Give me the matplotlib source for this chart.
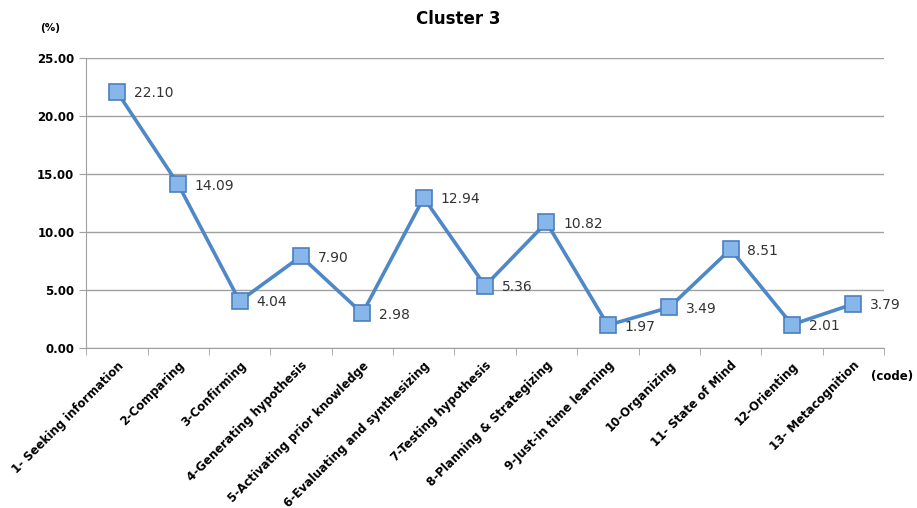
import numpy as np
import matplotlib.pyplot as plt

codes = ['1- Seeking information', '2-Comparing', '3-Confirming', '4-Generating hypothesis',
         '5-Activating prior knowledge', '6-Evaluating and synthesizing', '7-Testing hypothesis',
         '8-Planning & Strategizing', '9-Just-in time learning', '10-Organizing',
         '11- State of Mind', '12-Orienting', '13- Metacognition']
percent = [22.10, 14.09, 4.04, 7.90, 2.98, 12.94, 5.36, 10.82, 1.97, 3.49, 8.51, 2.01, 3.79]

fig = plt.figure(figsize=(9.17, 5.08), dpi=100)
ax = fig.add_axes([0.094, 0.315, 0.870, 0.571])

x = np.arange(len(codes))
ax.plot(x, percent, color='#4f88c6', lw=2.6, marker='s', ms=11,
        markerfacecolor='#86b6ea', markeredgecolor='#4a7fbf', markeredgewidth=1.2, zorder=3)
for xi, v in zip(x, percent):
    ax.annotate('%.2f' % v, (xi, v), xytext=(12, -1), textcoords='offset points',
                va='center', ha='left', fontsize=10, color='#333333')

ax.set_xlim(-0.5, len(codes) - 0.5)
ax.set_ylim(0, 25)
ax.set_yticks(np.arange(0, 26, 5))
ax.set_yticklabels(['%.2f' % t for t in np.arange(0, 26, 5)], fontsize=8.5, fontweight='bold')
ax.yaxis.grid(True, color='#a0a0a0', lw=1)
ax.set_axisbelow(True)

ax.set_xticks(x)
ax.set_xticklabels(codes, rotation=45, ha='right', rotation_mode='anchor',
                   fontsize=8.5, fontweight='bold')
ax.tick_params(axis='x', which='major', length=0, pad=8)
ax.set_xticks(np.arange(-0.5, len(codes), 1), minor=True)
ax.tick_params(axis='x', which='minor', length=5, color='#a0a0a0')
ax.tick_params(axis='y', length=5, color='#a0a0a0')

for s in ['top', 'right']:
    ax.spines[s].set_visible(False)
for s in ['left', 'bottom']:
    ax.spines[s].set_color('#a0a0a0')

fig.text(0.5, 0.963, 'Cluster 3', ha='center', va='center', fontsize=12, fontweight='bold')
fig.text(0.055, 0.945, '(%)', ha='center', va='center', fontsize=7.5, fontweight='bold')
fig.text(0.973, 0.258, '(code)', ha='center', va='center', fontsize=8.5, fontweight='bold')

fig.savefig('out.png', dpi=100)
